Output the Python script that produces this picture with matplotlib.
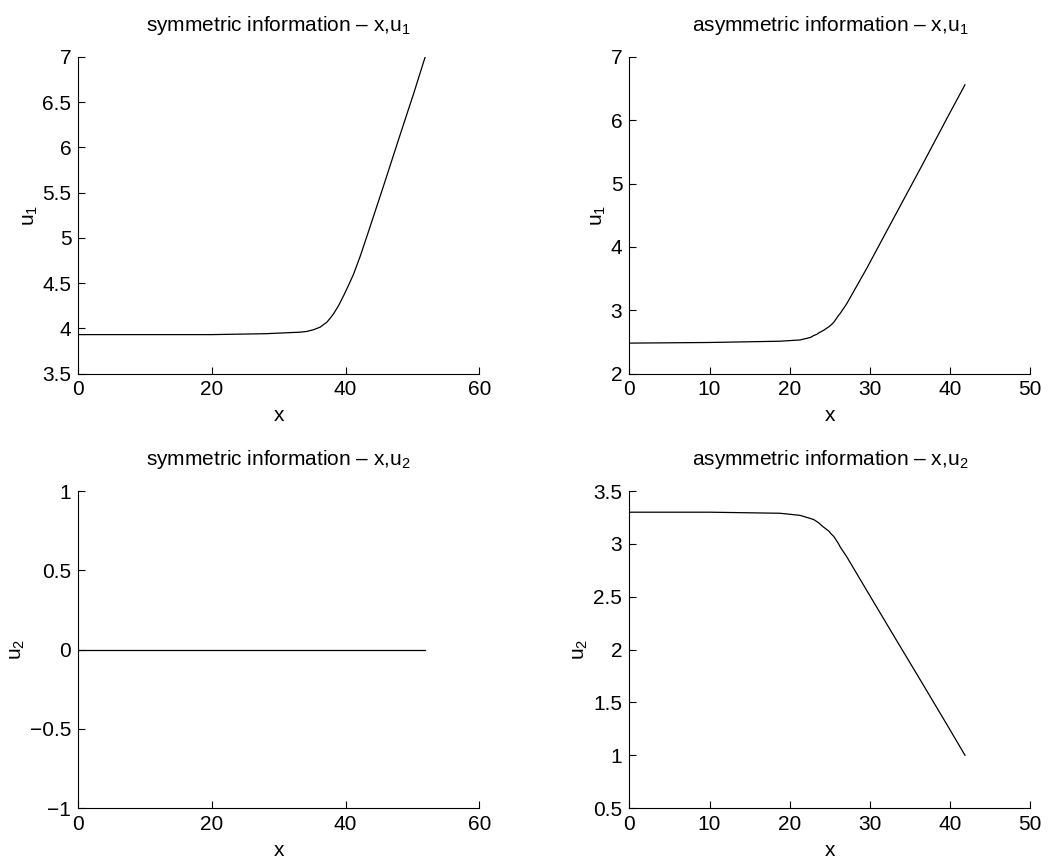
import matplotlib
matplotlib.use("Agg")
import matplotlib.pyplot as plt
from matplotlib.ticker import FuncFormatter

plt.rcParams['font.family'] = ['Liberation Sans', 'DejaVu Sans']
plt.rcParams['mathtext.fontset'] = 'custom'
plt.rcParams['mathtext.rm'] = 'Liberation Sans'
plt.rcParams['mathtext.it'] = 'Liberation Sans'

# symmetric information, u1 (u2 is zero throughout)
sym_x = [0, 10, 20, 28, 33.2, 34.2, 35.2, 36.2, 37.2, 37.7, 38.2, 38.9, 39.7, 40.4,
         41.2, 42.2, 43.2, 45.7, 48.2, 50.2, 51.9]
sym_u1 = [3.93, 3.93, 3.93, 3.94, 3.957, 3.965, 3.984, 4.013, 4.068, 4.112, 4.161, 4.245,
          4.36, 4.47, 4.60, 4.80, 5.02, 5.58, 6.15, 6.60, 7.0]
sym_u2 = [0] * len(sym_x)

# asymmetric information
asym_x = [0, 10, 18.8, 21.3, 22.6, 23.0, 23.4, 23.6, 24.2, 24.9, 25.1, 25.5, 26.1, 26.3,
          27.1, 29.6, 32.9, 36.3, 39.6, 41.85]
asym_u1 = [2.48, 2.49, 2.51, 2.53, 2.57, 2.60, 2.62, 2.64, 2.68, 2.74, 2.76, 2.81, 2.92,
           2.95, 3.10, 3.66, 4.44, 5.24, 6.03, 6.56]
asym_u2 = [3.30, 3.30, 3.29, 3.27, 3.24, 3.23, 3.21, 3.20, 3.16, 3.12, 3.10, 3.07, 3.00,
           2.97, 2.88, 2.56, 2.14, 1.71, 1.29, 1.00]

panels = [
    # (rect, x, y, title, ylabel, xlim, ylim, xticks, yticks)
    ([0.0746, 0.5692, 0.3823, 0.3651], sym_x, sym_u1,
     'symmetric information \u2013 x,u$\\mathregular{_1}$', 'u$\\mathregular{_1}$',
     (0, 60), (3.5, 7), [0, 20, 40, 60], [3.5, 4, 4.5, 5, 5.5, 6, 6.5, 7]),
    ([0.5999, 0.5692, 0.3823, 0.3651], asym_x, asym_u1,
     'asymmetric information \u2013 x,u$\\mathregular{_1}$', 'u$\\mathregular{_1}$',
     (0, 50), (2, 7), [0, 10, 20, 30, 40, 50], [2, 3, 4, 5, 6, 7]),
    ([0.0746, 0.0680, 0.3823, 0.3656], sym_x, sym_u2,
     'symmetric information \u2013 x,u$\\mathregular{_2}$', 'u$\\mathregular{_2}$',
     (0, 60), (-1, 1), [0, 20, 40, 60], [-1, -0.5, 0, 0.5, 1]),
    ([0.5999, 0.0680, 0.3823, 0.3656], asym_x, asym_u2,
     'asymmetric information \u2013 x,u$\\mathregular{_2}$', 'u$\\mathregular{_2}$',
     (0, 50), (0.5, 3.5), [0, 10, 20, 30, 40, 50], [0.5, 1, 1.5, 2, 2.5, 3, 3.5]),
]

fmt = FuncFormatter(lambda v, p: ('%g' % v).replace('-', '\u2212'))

fig = plt.figure(figsize=(10.49, 8.67), dpi=100)
for rect, x, y, title, ylab, xlim, ylim, xt, yt in panels:
    ax = fig.add_axes(rect)
    ax.plot(x, y, color='black', linewidth=0.9)
    ax.set_xlim(*xlim)
    ax.set_ylim(*ylim)
    ax.set_xticks(xt)
    ax.set_yticks(yt)
    ax.xaxis.set_major_formatter(fmt)
    ax.yaxis.set_major_formatter(fmt)
    ax.spines['top'].set_visible(False)
    ax.spines['right'].set_visible(False)
    for s in ['left', 'bottom']:
        ax.spines[s].set_linewidth(0.8)
    ax.tick_params(direction='in', length=5, width=0.8, labelsize=15, pad=5)
    ax.set_title(title, fontsize=15, pad=19)
    ax.set_xlabel('x', fontsize=15, labelpad=5)
    ax.set_ylabel(ylab, fontsize=15, labelpad=2)

fig.savefig('out.png', dpi=100)
